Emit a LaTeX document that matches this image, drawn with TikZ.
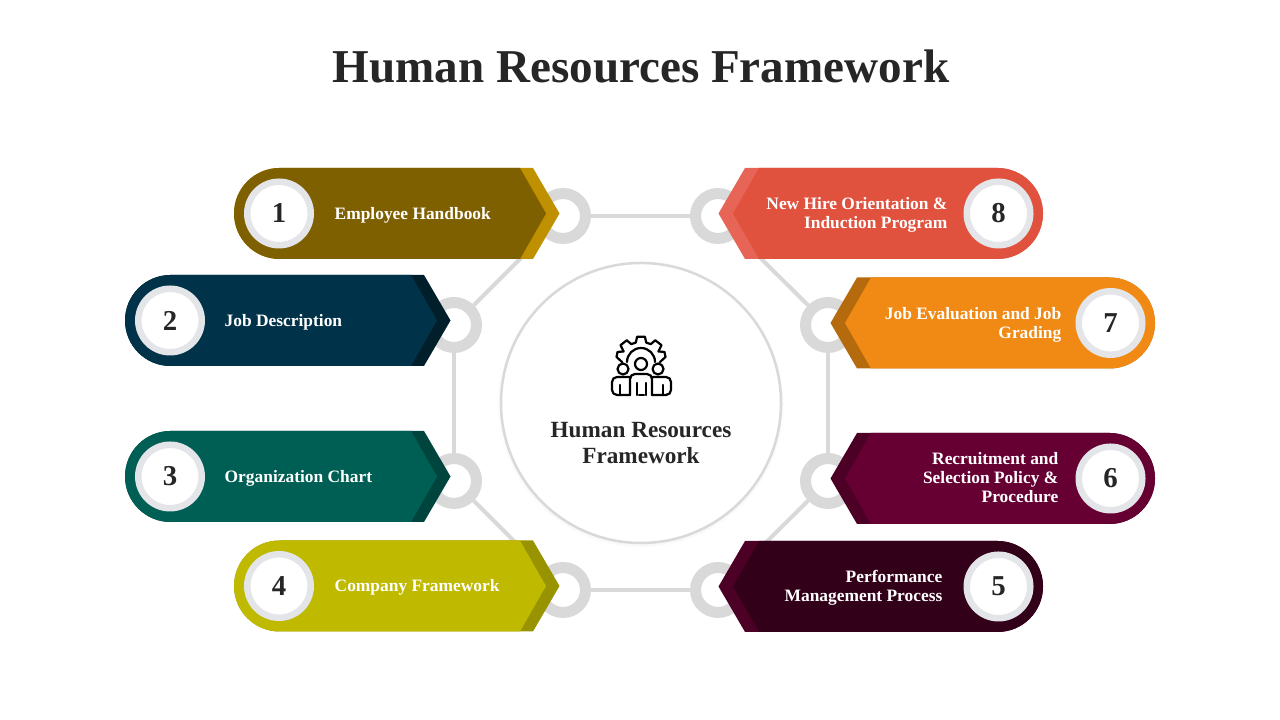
\documentclass[tikz,border=0pt]{standalone}
\usepackage{fontspec}
\setmainfont{Liberation Serif}
\usetikzlibrary{positioning,shadows}

\definecolor{inkdark}{HTML}{262626}
\definecolor{linegrey}{HTML}{D9D9D9}
\definecolor{dotgrey}{HTML}{E3E5E8}
\definecolor{bodyone}{HTML}{7F6000}
\definecolor{tipone}{HTML}{BF9000}
\definecolor{bodytwo}{HTML}{003349}
\definecolor{tiptwo}{HTML}{011E2B}
\definecolor{bodythree}{HTML}{005F54}
\definecolor{tipthree}{HTML}{00453D}
\definecolor{bodyfour}{HTML}{BFB900}
\definecolor{tipfour}{HTML}{989300}
\definecolor{bodyfive}{HTML}{330019}
\definecolor{tipfive}{HTML}{4D0026}
\definecolor{bodysix}{HTML}{660033}
\definecolor{tipsix}{HTML}{4D0026}
\definecolor{bodyseven}{HTML}{F08A14}
\definecolor{tipseven}{HTML}{B56A0E}
\definecolor{bodyeight}{HTML}{E0523E}
\definecolor{tipeight}{HTML}{E76556}

\tikzset{
  ringnode/.style={circle, draw=linegrey, fill=white, line width=0.11cm, minimum size=0.45cm, inner sep=0pt},
  linkline/.style={draw=linegrey, line width=0.04cm},
  numdot/.style={circle, draw=dotgrey, fill=white, line width=0.065cm, minimum size=0.635cm, inner sep=0pt,
    text=inkdark, font=\fontsize{8.2}{8.2}\selectfont\bfseries},
  lbl/.style={text=white, inner sep=0pt, font=\fontsize{4.95}{5.4}\selectfont\bfseries},
  iconline/.style={draw=black, line width=0.022cm, line join=round, line cap=round},
}

% #1 name, #2 left x, #3 mid y, #4 body, #5 accent, #6 number
\newcommand{\leftbanner}[6]{
  \begin{scope}[shift={(#2,#3)}]
    \fill[#5] (0.455,0.455) -- (2.99,0.455) -- (3.255,0) -- (2.99,-0.455) -- (0.455,-0.455) arc (270:90:0.455) -- cycle;
    \fill[#4] (0.455,0.455) -- (2.86,0.455) -- (3.12,0) -- (2.86,-0.455) -- (0.455,-0.455) arc (270:90:0.455) -- cycle;
    \node[numdot] (#1) at (0.45,0) {#6};
  \end{scope}
}
% #1 name, #2 right x, #3 mid y, #4 body, #5 accent, #6 number
\newcommand{\rightbanner}[6]{
  \begin{scope}[shift={(#2,#3)}]
    \fill[#5] (-0.455,0.455) -- (-2.98,0.455) -- (-3.245,0) -- (-2.98,-0.455) -- (-0.455,-0.455) arc (-90:90:0.455) -- cycle;
    \fill[#4] (-0.455,0.455) -- (-2.84,0.455) -- (-3.10,0) -- (-2.84,-0.455) -- (-0.455,-0.455) arc (-90:90:0.455) -- cycle;
    \node[numdot] (#1) at (-0.445,0) {#6};
  \end{scope}
}

\begin{document}
\begin{tikzpicture}
  \useasboundingbox (0,0) rectangle (12.8,7.2);

  \node[text=inkdark, font=\fontsize{13.4}{13.4}\selectfont\bfseries] (title) at (6.41,6.54) {Human Resources Framework};

  % Rings round the hub
  \node[ringnode] (r1) at (5.63,5.04) {};
  \node[ringnode] (r2) at (4.54,3.95) {};
  \node[ringnode] (r3) at (4.54,2.39) {};
  \node[ringnode] (r4) at (5.63,1.30) {};
  \node[ringnode] (r5) at (7.18,1.30) {};
  \node[ringnode] (r6) at (8.28,2.39) {};
  \node[ringnode] (r7) at (8.28,3.95) {};
  \node[ringnode] (r8) at (7.18,5.04) {};

  \draw[linkline] (r1) -- (r2);
  \draw[linkline] (r2) -- (r3);
  \draw[linkline] (r3) -- (r4);
  \draw[linkline] (r4) -- (r5);
  \draw[linkline] (r5) -- (r6);
  \draw[linkline] (r6) -- (r7);
  \draw[linkline] (r7) -- (r8);
  \draw[linkline] (r8) -- (r1);

  % Hub
  \node[circle, fill=white, draw=linegrey, line width=0.025cm, minimum size=2.8cm, inner sep=0pt,
    circular drop shadow={shadow scale=1.025, shadow xshift=-0.005cm, shadow yshift=-0.01cm, opacity=0.35}] (hub) at (6.41,3.17) {};
  \node[text=inkdark, align=center, font=\fontsize{6.6}{7.4}\selectfont\bfseries] (hubtext) at (6.41,2.77) {Human Resources\\Framework};

  % Gear and people
  \begin{scope}[shift={(6.41,3.55)}]
    \draw[iconline] (0.19,0.03) -- (0.245,0.08) -- (0.235,0.13) -- (38:0.22)
      \foreach \a in {52,90,128} { -- (\a-13:0.23) -- (\a-8:0.285) -- (\a+8:0.285) -- (\a+13:0.23) }
      -- (142:0.22) -- (-0.235,0.13) -- (-0.245,0.08) -- (-0.19,0.03);
    \draw[iconline] (-0.14,0.03) arc (180:0:0.14);
  \end{scope}
  \draw[iconline] (6.23,3.51) circle (0.055);
  \draw[iconline] (6.41,3.56) circle (0.06);
  \draw[iconline] (6.58,3.51) circle (0.055);
  \draw[iconline, rounded corners=0.05cm] (6.30,3.43) -- (6.12,3.43) -- (6.12,3.25) -- (6.30,3.25);
  \draw[iconline, rounded corners=0.05cm] (6.30,3.25) -- (6.30,3.46) -- (6.52,3.46) -- (6.52,3.25);
  \draw[iconline, rounded corners=0.05cm] (6.52,3.43) -- (6.71,3.43) -- (6.71,3.25) -- (6.52,3.25);
  \draw[iconline] (6.20,3.25) -- (6.20,3.35);
  \draw[iconline] (6.63,3.25) -- (6.63,3.35);
  \draw[iconline] (6.37,3.25) -- (6.37,3.37);
  \draw[iconline] (6.46,3.25) -- (6.46,3.37);
  \draw[iconline] (6.39,3.25) -- (6.44,3.25);

  % Left banners
  \leftbanner{n1}{2.34}{5.065}{bodyone}{tipone}{1}
  \leftbanner{n2}{1.25}{3.995}{bodytwo}{tiptwo}{2}
  \leftbanner{n3}{1.25}{2.435}{bodythree}{tipthree}{3}
  \leftbanner{n4}{2.34}{1.34}{bodyfour}{tipfour}{4}

  % Right banners
  \rightbanner{n8}{10.43}{5.065}{bodyeight}{tipeight}{8}
  \rightbanner{n7}{11.55}{3.97}{bodyseven}{tipseven}{7}
  \rightbanner{n6}{11.55}{2.415}{bodysix}{tipsix}{6}
  \rightbanner{n5}{10.43}{1.335}{bodyfive}{tipfive}{5}

  % Labels
  \node[lbl, anchor=west] (t1) at (3.34,5.045) {Employee Handbook};
  \node[lbl, anchor=west] (t2) at (2.24,3.975) {Job Description};
  \node[lbl, anchor=west] (t3) at (2.24,2.415) {Organization Chart};
  \node[lbl, anchor=west] (t4) at (3.34,1.33) {Company Framework};
  \node[lbl, anchor=east, align=right] (t5) at (9.43,1.325) {Performance\\Management Process};
  \node[lbl, anchor=east, align=right] (t6) at (10.59,2.425) {Recruitment and\\Selection Policy \&\\Procedure};
  \node[lbl, anchor=east, align=right] (t7) at (10.62,3.95) {Job Evaluation and Job\\Grading};
  \node[lbl, anchor=east, align=right] (t8) at (9.48,5.055) {New Hire Orientation \&\\Induction Program};
\end{tikzpicture}
\end{document}
